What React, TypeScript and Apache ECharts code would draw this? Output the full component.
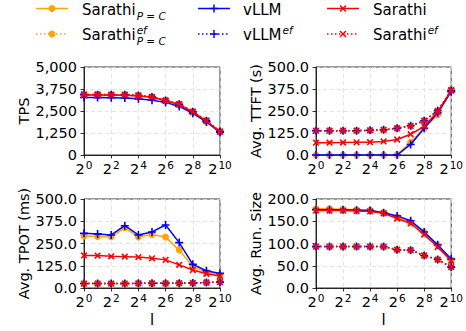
import React, { useEffect, useRef } from "react";
import * as echarts from "echarts";

// x positions are exponents of 2 (l = 2^0 ... 2^10)
const exponents = [0, 1, 2, 3, 4, 5, 6, 7, 8, 9, 10];

// TPS
const tpsSarathiPC = [3420, 3420, 3410, 3410, 3370, 3290, 3090, 2880, 2460, 1950, 1330];
const tpsSarathiPCef = [3440, 3440, 3430, 3430, 3390, 3300, 3100, 2890, 2470, 1960, 1340];
const tpsVllm = [3270, 3260, 3250, 3240, 3190, 3110, 2990, 2760, 2370, 1880, 1290];
const tpsVllmEf = [3430, 3430, 3420, 3420, 3380, 3290, 3090, 2880, 2460, 1950, 1330];
const tpsSarathi = [3410, 3410, 3400, 3400, 3350, 3280, 3080, 2870, 2440, 1930, 1310];
const tpsSarathiEf = [3440, 3440, 3430, 3430, 3390, 3300, 3100, 2890, 2460, 1950, 1330];

// Avg. TTFT (s)
const ttftSarathiPC = [0, 0, 0, 0, 0, 0, 2, 72, 152, 228, 372];
const ttftSarathiPCef = [138, 138, 138, 138, 140, 143, 152, 165, 194, 250, 368];
const ttftVllm = [0, 0, 0, 0, 0, 0, 0, 60, 152, 240, 360];
const ttftVllmEf = [138, 138, 138, 138, 140, 143, 152, 166, 195, 252, 366];
const ttftSarathi = [70, 70, 71, 72, 73, 77, 88, 118, 163, 246, 366];
const ttftSarathiEf = [138, 138, 138, 138, 140, 143, 152, 165, 195, 250, 368];

// Avg. TPOT (ms)
const tpotSarathiPC = [292, 290, 288, 338, 286, 300, 286, 213, 120, 88, 72];
const tpotSarathiPCef = [25, 25, 25, 25, 26, 26, 26, 27, 28, 31, 33];
const tpotVllm = [307, 304, 298, 350, 298, 315, 354, 255, 133, 97, 82];
const tpotVllmEf = [25, 25, 25, 25, 26, 26, 26, 27, 28, 31, 33];
const tpotSarathi = [183, 182, 178, 176, 174, 167, 158, 130, 101, 80, 67];
const tpotSarathiEf = [25, 25, 25, 25, 26, 26, 26, 27, 28, 31, 33];

// Avg. Run. Size
const runSarathiPC = [178, 178, 177, 176, 175, 169, 160, 148, 125, 96, 63];
const runSarathiPCef = [93, 93, 93, 93, 93, 93, 86, 85, 73, 64, 47];
const runVllm = [176, 176, 176, 175, 174, 169, 162, 151, 126, 97, 65];
const runVllmEf = [93, 93, 93, 93, 93, 93, 86, 85, 73, 64, 47];
const runSarathi = [174, 174, 174, 173, 172, 168, 156, 145, 120, 92, 61];
const runSarathiEf = [93, 93, 93, 93, 93, 93, 86, 85, 73, 64, 47];

const seriesNames = ["Sarathi_P=C", "Sarathi^ef_P=C", "vLLM", "vLLM^ef", "Sarathi", "Sarathi^ef"];
const panelTitles = ["TPS", "Avg. TTFT (s)", "Avg. TPOT (ms)", "Avg. Run. Size"];

const FONT = "DejaVu Sans";
const ORANGE = "#FFA500";
const BLUE = "#0000FF";
const RED = "#FF0000";
const PLUS = "path://M4,0H6V4H10V6H6V10H4V6H0V4H4Z";

export default function App() {
  const ref = useRef<HTMLDivElement>(null);
  useEffect(() => {
    const chart = echarts.init(ref.current!, null, { renderer: "svg" });

    const styles = [
      { color: ORANGE, dotted: false, symbol: "circle", rotate: 0, size: 7 },
      { color: ORANGE, dotted: true, symbol: "circle", rotate: 0, size: 7 },
      { color: BLUE, dotted: false, symbol: PLUS, rotate: 0, size: 8 },
      { color: BLUE, dotted: true, symbol: PLUS, rotate: 0, size: 8 },
      { color: RED, dotted: false, symbol: PLUS, rotate: 45, size: 8 },
      { color: RED, dotted: true, symbol: PLUS, rotate: 45, size: 8 },
    ];

    const panels = [
      {
        data: [tpsSarathiPC, tpsSarathiPCef, tpsVllm, tpsVllmEf, tpsSarathi, tpsSarathiEf],
        max: 5000, interval: 1250,
        fmt: (v: number) => v.toLocaleString("en-US"),
        grid: { left: 84, top: 67, width: 136, height: 88 },
      },
      {
        data: [ttftSarathiPC, ttftSarathiPCef, ttftVllm, ttftVllmEf, ttftSarathi, ttftSarathiEf],
        max: 500, interval: 125,
        fmt: (v: number) => v.toFixed(1),
        grid: { left: 316, top: 67, width: 136, height: 88 },
      },
      {
        data: [tpotSarathiPC, tpotSarathiPCef, tpotVllm, tpotVllmEf, tpotSarathi, tpotSarathiEf],
        max: 500, interval: 125,
        fmt: (v: number) => v.toFixed(1),
        grid: { left: 84, top: 199, width: 136, height: 89 },
      },
      {
        data: [runSarathiPC, runSarathiPCef, runVllm, runVllmEf, runSarathi, runSarathiEf],
        max: 200, interval: 50,
        fmt: (v: number) => v.toFixed(1),
        grid: { left: 316, top: 199, width: 136, height: 89 },
      },
    ];

    const grids: any[] = [];
    const xAxes: any[] = [];
    const yAxes: any[] = [];
    const series: any[] = [];
    const axisLineStyle = { color: "#000", width: 0.8 };
    const splitLine = { show: true, lineStyle: { type: [4, 3], color: "#dcdcdc", width: 0.8 } };

    panels.forEach((p, i) => {
      grids.push({ ...p.grid, show: true, borderColor: "#000", borderWidth: 0.8, backgroundColor: "transparent" });
      xAxes.push({
        type: "value", gridIndex: i, min: 0, max: 10, interval: 2,
        axisLine: { show: true, onZero: false, lineStyle: axisLineStyle },
        axisTick: { show: true, inside: false, length: 3.5, lineStyle: axisLineStyle },
        axisLabel: {
          margin: 5, color: "#000",
          formatter: (v: number) => `{b|2}{s|${v}}`,
          rich: {
            b: { fontSize: 14.5, fontFamily: FONT, color: "#000", verticalAlign: "bottom", lineHeight: 16 },
            s: { fontSize: 10.5, fontFamily: FONT, color: "#000", verticalAlign: "bottom", lineHeight: 16, padding: [0, 0, 6, 1] },
          },
        },
        splitLine,
        name: i >= 2 ? "l" : "",
        nameLocation: "middle", nameGap: 24,
        nameTextStyle: { fontSize: 15, fontFamily: FONT, color: "#000" },
      });
      yAxes.push({
        type: "value", gridIndex: i, min: 0, max: p.max, interval: p.interval,
        axisLine: { show: true, onZero: false, lineStyle: axisLineStyle },
        axisTick: { show: true, inside: false, length: 3.5, lineStyle: axisLineStyle },
        axisLabel: { margin: 7, color: "#000", fontSize: 14.5, fontFamily: FONT, formatter: p.fmt },
        splitLine,
        name: panelTitles[i], nameLocation: "middle", nameGap: 52, nameRotate: 90,
        nameTextStyle: { fontSize: 14.5, fontFamily: FONT, color: "#000" },
      });
      p.data.forEach((arr, k) => {
        const st = styles[k];
        series.push({
          type: "line",
          name: seriesNames[k],
          xAxisIndex: i, yAxisIndex: i,
          data: exponents.map((e, j) => [e, arr[j]]),
          symbol: st.symbol, symbolSize: st.size, symbolRotate: st.rotate, symbolKeepAspect: true,
          showAllSymbol: true,
          clip: false,
          lineStyle: { color: st.color, width: 1.5, type: st.dotted ? [1.5, 2.5] : "solid" },
          itemStyle: { color: st.color, borderWidth: 0 },
          emphasis: { disabled: true },
          z: 2 + k,
        });
      });
    });

    // custom legend
    const legendCols = [
      { lx: 36, tx: 82, marker: "circle", color: ORANGE, labels: ["Sarathi", "Sarathi"] },
      { lx: 198, tx: 243, marker: "plus", color: BLUE, labels: ["vLLM", "vLLM"] },
      { lx: 327, tx: 373, marker: "x", color: RED, labels: ["Sarathi", "Sarathi"] },
    ];
    const rowsY = [8.5, 34];
    const textY = [10, 35];
    const graphic: any[] = [];
    const textWidth = (s: string, size: number) =>
      (echarts as any).format && (echarts as any).format.getTextRect
        ? (echarts as any).format.getTextRect(s, `${size}px ${FONT}`).width
        : s.length * size * 0.6;
    legendCols.forEach((c, ci) => {
      rowsY.forEach((ry, r) => {
        const cx = c.lx + 16;
        graphic.push({
          type: "line",
          shape: { x1: c.lx, y1: ry, x2: c.lx + 32, y2: ry },
          style: { stroke: c.color, lineWidth: 1.5, lineDash: r === 1 ? [1.5, 2.5] : null },
        });
        if (c.marker === "circle") {
          graphic.push({ type: "circle", shape: { cx, cy: ry, r: 3.5 }, style: { fill: c.color } });
        } else if (c.marker === "plus") {
          graphic.push({ type: "line", shape: { x1: cx - 4, y1: ry, x2: cx + 4, y2: ry }, style: { stroke: c.color, lineWidth: 1.5 } });
          graphic.push({ type: "line", shape: { x1: cx, y1: ry - 4, x2: cx, y2: ry + 4 }, style: { stroke: c.color, lineWidth: 1.5 } });
        } else {
          graphic.push({ type: "line", shape: { x1: cx - 3, y1: ry - 3, x2: cx + 3, y2: ry + 3 }, style: { stroke: c.color, lineWidth: 1.5 } });
          graphic.push({ type: "line", shape: { x1: cx - 3, y1: ry + 3, x2: cx + 3, y2: ry - 3 }, style: { stroke: c.color, lineWidth: 1.5 } });
        }
        const base = c.labels[r];
        graphic.push({
          type: "text", x: c.tx, y: textY[r],
          style: { text: base, font: `15px ${FONT}`, fill: "#000", verticalAlign: "middle", align: "left" },
        });
        const bw = textWidth(base, 15);
        if (r === 1) {
          graphic.push({
            type: "text", x: c.tx + bw + 1, y: textY[r] - 5.5,
            style: { text: "ef", font: `italic 10.5px ${FONT}`, lineHeight: 10, fill: "#000", verticalAlign: "middle", align: "left" },
          });
        }
        if (ci === 0) {
          graphic.push({
            type: "text", x: c.tx + bw + 1, y: textY[r] + 5.5,
            style: { text: "P = C", font: `italic 10.5px ${FONT}`, lineHeight: 10, fill: "#000", verticalAlign: "middle", align: "left" },
          });
        }
      });
    });

    chart.setOption({
      animation: false,
      backgroundColor: "#fff",
      textStyle: { fontFamily: FONT },
      grid: grids,
      xAxis: xAxes,
      yAxis: yAxes,
      series,
      graphic,
    });
    return () => chart.dispose();
  }, []);
  return <div ref={ref} style={{ position: "absolute", left: 0, top: 0, width: 466, height: 331 }} />;
}
